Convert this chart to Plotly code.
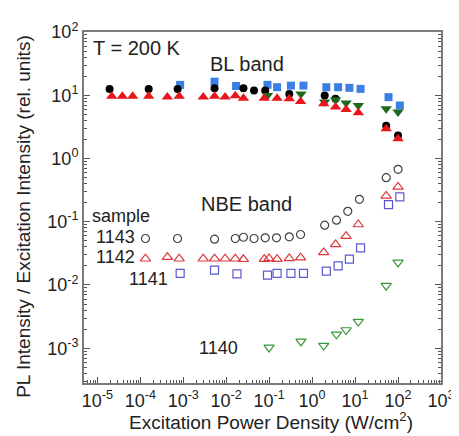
import plotly.graph_objects as go

# ---------------- data ----------------
# BL band (filled markers)
bl1143_x = [1.93e-5, 1.57e-4, 7.4e-4, 5.35e-3, 2.52e-2, 4.44e-2, 8.1e-2, 0.294, 1.96, 3.5, 53, 100]
bl1143_y = [12.6, 12.6, 12.6, 12.9, 12.9, 11.9, 11.9, 10.5, 9.9, 8.8, 3.3, 2.3]

bl1142_x = [2.17e-5, 3.83e-5, 6.65e-5, 1.57e-4, 4.27e-4, 8.05e-4, 2.92e-3, 5.35e-3, 9.45e-3,
            1.63e-2, 2.52e-2, 7.7e-2, 0.153, 0.294, 0.538, 1.86, 3.51, 6.18, 11.9, 53, 100]
bl1142_y = [9.68, 9.68, 9.68, 9.68, 9.4, 9.68, 9.4, 9.68, 9.4,
            9.8, 9.0, 9.0, 9.0, 8.78, 7.96, 7.31, 6.49, 5.95, 5.27, 2.95, 2.05]

bl1141_x = [8.48e-4, 5.35e-3, 1.7e-2, 9.16e-2, 0.153, 0.321, 0.629, 2.14, 4.03, 7.38, 13.4, 60, 110]
bl1141_y = [14.6, 16.4, 14.0, 14.6, 13.4, 14.2, 14.2, 13.4, 13.4, 13.1, 12.6, 9.33, 6.88]

bl1140_x = [9.16e-2, 0.55, 1.96, 3.51, 6.18, 11.9, 53, 100]
bl1140_y = [9.89, 10.5, 7.79, 8.46, 7.51, 6.88, 6.10, 5.41]

# NBE band (open markers)
nbe1143_x = [1.32e-4, 7.38e-4, 5.35e-3, 1.63e-2, 2.52e-2, 4.44e-2, 8.1e-2, 0.148, 0.294, 0.538,
             1.96, 3.69, 6.76, 12.6, 53, 100]
nbe1143_y = [0.0543, 0.0543, 0.053, 0.0543, 0.0568, 0.0543, 0.0557, 0.0557, 0.0578, 0.0628,
             0.0881, 0.106, 0.146, 0.226, 0.498, 0.673]

nbe1142_x = [1.32e-4, 4.27e-4, 8.05e-4, 2.92e-3, 5.35e-3, 9.45e-3, 1.63e-2, 2.52e-2, 7.7e-2,
             9.96e-2, 0.153, 0.294, 0.538, 1.86, 3.51, 6.18, 11.9, 53, 100]
nbe1142_y = [0.026, 0.0275, 0.026, 0.026, 0.026, 0.026, 0.026, 0.0255, 0.0256,
             0.0263, 0.0256, 0.0263, 0.027, 0.0327, 0.0437, 0.059, 0.0904, 0.256, 0.355]

nbe1141_x = [8.48e-4, 5.35e-3, 1.78e-2, 9.16e-2, 0.153, 0.321, 0.629, 2.14, 4.03, 7.38, 13.4, 60, 110]
nbe1141_y = [0.0152, 0.0172, 0.0150, 0.0143, 0.0152, 0.0152, 0.0152, 0.0166, 0.0201, 0.0256, 0.0387, 0.187, 0.247]

nbe1140_x = [9.96e-2, 0.55, 1.86, 3.69, 6.18, 11.9, 53, 100]
nbe1140_y = [0.00103, 0.00128, 0.0011, 0.00166, 0.00194, 0.00264, 0.00975, 0.0227]

x_decades = [-5, -4, -3, -2, -1, 0, 1, 2, 3]
y_decades = [-3, -2, -1, 0, 1, 2]
x_ticktext = ["10<sup>-5</sup>", "10<sup>-4</sup>", "10<sup>-3</sup>", "10<sup>-2</sup>", "10<sup>-1</sup>",
              "10<sup>0</sup>", "10<sup>1</sup>", "10<sup>2</sup>", "10<sup>3</sup>"]
y_ticktext = ["10<sup>-3</sup>", "10<sup>-2</sup>", "10<sup>-1</sup>", "10<sup>0</sup>",
              "10<sup>1</sup>", "10<sup>2</sup>"]

# ---------------- figure ----------------
FONT = "Liberation Sans, Arial, sans-serif"
fig = go.Figure()

def add(x, y, symbol, color, size, open_=False, lw=1.2):
    if open_:
        marker = dict(symbol=symbol + "-open", size=size, color=color, line=dict(width=lw, color=color))
    else:
        marker = dict(symbol=symbol, size=size, color=color, line=dict(width=0))
    fig.add_trace(go.Scatter(x=x, y=y, mode="markers", marker=marker, showlegend=False, cliponaxis=False))

# BL (black circles first so red triangles cover them)
add(bl1141_x, bl1141_y, "square", "#3a7fe6", 8)
add(bl1143_x, bl1143_y, "circle", "#000000", 8)
add(bl1140_x, bl1140_y, "triangle-down", "#1d6a1d", 10)
add(bl1142_x, bl1142_y, "triangle-up", "#e8161c", 10)

# NBE
add(nbe1143_x, nbe1143_y, "circle", "#404040", 8, True)
add(nbe1142_x, nbe1142_y, "triangle-up", "#e0363a", 9, True)
add(nbe1141_x, nbe1141_y, "square", "#5a5ad0", 8, True)
add(nbe1140_x, nbe1140_y, "triangle-down", "#3a9a3a", 9, True)

x_minor = [m * 10 ** d for d in range(-6, 3) for m in range(2, 10)]
y_minor = [m * 10 ** d for d in range(-4, 2) for m in range(2, 10)]

axis_common = dict(
    type="log", showgrid=False, zeroline=False,
    showline=True, linecolor="#7a7a7a", linewidth=2,
    ticks="inside", ticklen=6, tickwidth=1, tickcolor="#555555",
    tickfont=dict(family=FONT, size=18, color="#222222"),
)

fig.update_xaxes(
    **axis_common, mirror=True,
    range=[-5.31, 3],
    tickmode="array", tickvals=[10 ** d for d in x_decades], ticktext=x_ticktext,
    minor=dict(tickmode="array", tickvals=x_minor, ticks="inside", ticklen=3, tickcolor="#555555", tickwidth=1),
)
fig.update_yaxes(
    **axis_common, mirror="ticks",
    range=[-3.55, 2],
    tickmode="array", tickvals=[10 ** d for d in y_decades], ticktext=y_ticktext,
    minor=dict(tickmode="array", tickvals=y_minor, ticks="inside", ticklen=3, tickcolor="#555555", tickwidth=1),
)

L, R, T, B = 76, 12, 23, 61
W, H = 459, 436
pw, ph = W - L - R, H - T - B

def px(xp, yp):
    return (xp - L) / pw, (H - B - yp) / ph

annots = []
def txt(s, xp, yp, size=19, angle=0):
    x, y = px(xp, yp)
    annots.append(dict(text=s, x=x, y=y, xref="paper", yref="paper", showarrow=False,
                       xanchor="center", yanchor="middle", textangle=angle,
                       font=dict(family=FONT, size=size, color="#222222")))

txt("T = 200 K", 131, 39, 20)
txt("BL band", 245, 55, 20)
txt("NBE band", 245, 195, 20)
txt("sample", 114, 208, 18)
txt("1143", 109, 229, 18)
txt("1142", 109, 249, 18)
txt("1141", 143, 271, 18)
txt("1140", 216, 340, 18)
txt("PL Intensity / Excitation Intensity (rel. units)", 13, 208, 19, -90)
txt("Excitation Power Density (W/cm<sup>2</sup>)", 270, 413, 19)

fig.update_layout(
    width=W, height=H,
    margin=dict(l=L, r=R, t=T, b=B, pad=0),
    paper_bgcolor="white", plot_bgcolor="white",
    annotations=annots,
    font=dict(family=FONT),
)

fig.write_html("out.html")
